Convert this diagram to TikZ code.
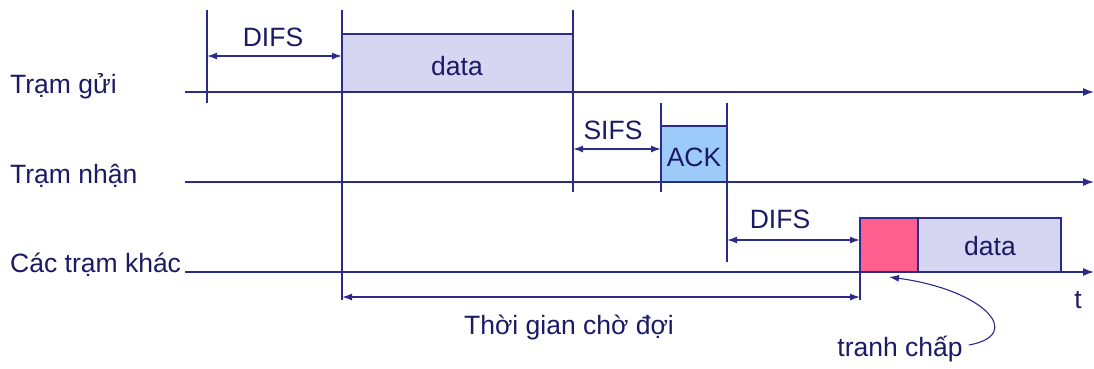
\documentclass[tikz,border=0pt]{standalone}
\usepackage{fontspec}
\setmainfont{Liberation Sans}
\usetikzlibrary{arrows.meta}
\definecolor{ink}{HTML}{1A1A66}
\definecolor{rule}{HTML}{2B2B8C}
\definecolor{datafill}{HTML}{D6D6F2}
\definecolor{ackfill}{HTML}{9CCBFA}
\definecolor{hitfill}{HTML}{FF5F8F}
\tikzset{
  lbl/.style={font=\fontsize{26.5}{30}\selectfont, text=ink, inner sep=0pt},
  axis/.style={draw=rule, line width=1.4pt, -{Latex[length=11pt,width=8pt]}},
  tick/.style={draw=rule, line width=1.1pt},
  span/.style={draw=rule, line width=1.4pt, {Latex[length=10pt,width=7pt]}-{Latex[length=10pt,width=7pt]}},
  frame/.style={draw=rule, line width=1.1pt}
}
\begin{document}
\begin{tikzpicture}[x=1pt,y=-1pt]
\useasboundingbox (0,0) rectangle (1094,368);

% station names
\node[lbl, anchor=west] (send) at (10,86) {Trạm gửi};
\node[lbl, anchor=west] (recv) at (10,176) {Trạm nhận};
\node[lbl, anchor=west] (other) at (10,265) {Các trạm khác};

% frames on the time lines
\fill[datafill] (342,34) rectangle (573,92);
\draw[frame] (342,34) -- (573,34);
\node[lbl] (data1) at (457,66) {data};

\fill[ackfill] (661,126) rectangle (727,182);
\draw[frame] (661,126) -- (727,126);
\node[lbl] (ack) at (694,157) {ACK};

\fill[hitfill] (860,218) rectangle (918,272);
\fill[datafill] (918,218) rectangle (1061,272);
\draw[frame] (860,218) rectangle (918,272);
\draw[frame] (918,218) -- (1061,218) -- (1061,272);
\node[lbl] (data2) at (990,246) {data};

% time lines
\coordinate (s0) at (185,92);  \coordinate (s1) at (1094,92);
\coordinate (r0) at (185,182); \coordinate (r1) at (1094,182);
\coordinate (o0) at (185,272); \coordinate (o1) at (1094,272);
\draw[axis] (s0) -- (s1);
\draw[axis] (r0) -- (r1);
\draw[axis] (o0) -- (o1);
\node[lbl] (t) at (1078,300) {t};

% boundaries
\coordinate (a0) at (207,10);  \coordinate (a1) at (207,103);
\coordinate (b0) at (342,10);  \coordinate (b1) at (342,300);
\coordinate (c0) at (573,10);  \coordinate (c1) at (573,192);
\coordinate (d0) at (661,103); \coordinate (d1) at (661,192);
\coordinate (e0) at (727,103); \coordinate (e1) at (727,262);
\coordinate (f0) at (860,218); \coordinate (f1) at (860,300);
\draw[tick] (a0) -- (a1);
\draw[tick] (b0) -- (b1);
\draw[tick] (c0) -- (c1);
\draw[tick] (d0) -- (d1);
\draw[tick] (e0) -- (e1);
\draw[tick] (f0) -- (f1);

% inter-frame spaces
\coordinate (p0) at (207,56); \coordinate (p1) at (342,56);
\draw[span] (p0) -- (p1);
\node[lbl] (difs1) at (273,37) {DIFS};

\coordinate (q0) at (573,149); \coordinate (q1) at (661,149);
\draw[span] (q0) -- (q1);
\node[lbl] (sifs) at (613,130) {SIFS};

\coordinate (u0) at (727,240); \coordinate (u1) at (860,240);
\draw[span] (u0) -- (u1);
\node[lbl] (difs2) at (780,219) {DIFS};

\coordinate (w0) at (342,297); \coordinate (w1) at (860,297);
\draw[span] (w0) -- (w1);
\node[lbl] (wait) at (569,327) {Thời gian chờ đợi};

% contention marker
\node[lbl] (clash) at (900,349) {tranh chấp};
\coordinate (hit) at (889,277);
\draw[draw=rule, line width=1.1pt, -{Latex[length=10pt,width=7pt]}]
  (clash.east) ++(6,-4) .. controls (1025,335) and (985,290) .. (hit);
\end{tikzpicture}
\end{document}
